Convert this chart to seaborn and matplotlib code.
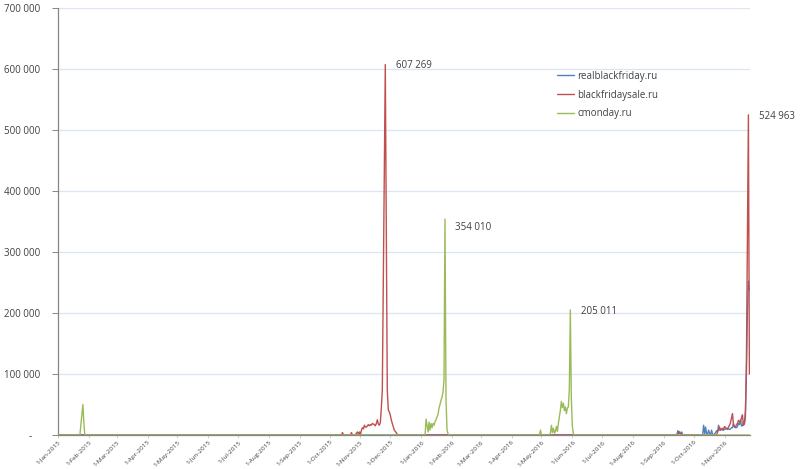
import numpy as np
import pandas as pd
import matplotlib
matplotlib.use("Agg")
import matplotlib.pyplot as plt
import matplotlib.dates as mdates
from matplotlib.ticker import FuncFormatter, MultipleLocator
import seaborn as sns

# ---------------- data ----------------
START = "2015-01-01"
END = "2016-11-26"
sites = ["realblackfriday.ru", "blackfridaysale.ru", "cmonday.ru"]
colors = ["#4F81BD", "#C0504D", "#9BBB59"]

# daily visits; days outside the listed segments are 0
real_sep16_start = "2016-09-14"
real_sep16 = [0, 7000, 2000, 5000, 1000, 5000, 0]
real_oct16_start = "2016-10-10"
real_oct16 = [0, 16000, 2000, 13000, 1000, 2000, 8000, 2000, 1000, 8000,
              1000, 0, 2000, 4000, 7000, 5000, 16000, 8000, 8000, 10000,
              8000, 8000, 9000, 10000, 10000, 9000, 10000, 9000, 10000, 12000,
              12000, 19000, 13000, 12000, 12000, 14000, 19000, 17000, 25000, 15000,
              15000, 22000, 20000, 40000, 100000, 200000, 252000, 238000]

sale_oct15_start = "2015-10-13"
sale_oct15 = [0, 4000, 0, 0, 0, 0, 0, 0, 0, 0,
              4000, 0, 0, 0, 0, 3000, 5000, 1000, 5000, 0,
              8000, 12000, 10000, 16000, 13000, 13000, 15000, 17000, 15000, 17000,
              16000, 19000, 18000, 17000, 15000, 19000, 25000, 18000, 16000, 20000,
              44000, 74000, 250000, 430000, 607269, 330000, 74000, 41000, 38000, 33000,
              25000, 19000, 14000, 8000, 6000, 4000, 1000, 0]
sale_sep16_start = "2016-09-15"
sale_sep16 = [0, 6000, 3000, 0]
sale_oct16_start = "2016-10-24"
sale_oct16 = [0, 5000, 9000, 13000, 8000, 10000, 11000, 9000, 14000, 12000,
              11000, 10000, 13000, 16000, 20000, 28000, 35000, 16000, 14000, 13000,
              17000, 19000, 24000, 22000, 21000, 28000, 33000, 16000, 18000, 30000,
              120000, 330000, 524963, 100000]

cmon_jan15_start = "2015-01-23"
cmon_jan15 = [0, 17000, 34000, 50000, 20000, 0]
cmon_jan16_start = "2016-01-05"
cmon_jan16 = [0, 26000, 15000, 5000, 21000, 8000, 19000, 12000, 19000, 16000,
              22000, 25000, 30000, 34000, 44000, 50000, 57000, 62000, 70000, 90000,
              354010, 60000, 9000, 2000, 0]
cmon_apr16_start = "2016-04-29"
cmon_apr16 = [0, 8000, 0]
cmon_may16_start = "2016-05-09"
cmon_may16 = [0, 3000, 16000, 4000, 11000, 3000, 6000, 14000, 6000, 19000,
              30000, 41000, 55000, 45000, 52000, 40000, 46000, 35000, 44000, 46000,
              75000, 205011, 60000, 15000, 2000, 0]

segments = {
    "realblackfriday.ru": [(real_sep16_start, real_sep16), (real_oct16_start, real_oct16)],
    "blackfridaysale.ru": [(sale_oct15_start, sale_oct15), (sale_sep16_start, sale_sep16),
                           (sale_oct16_start, sale_oct16)],
    "cmonday.ru": [(cmon_jan15_start, cmon_jan15), (cmon_jan16_start, cmon_jan16),
                   (cmon_apr16_start, cmon_apr16), (cmon_may16_start, cmon_may16)],
}

peak_labels = ["607 269", "354 010", "205 011", "524 963"]
peak_series = ["blackfridaysale.ru", "cmonday.ru", "cmonday.ru", "blackfridaysale.ru"]
peak_values = [607269, 354010, 205011, 524963]
peak_dy = [-1, -6, -1, -1]   # vertical text offsets in points

# ---------------- build frame ----------------
dates = pd.date_range(START, END, freq="D")
frames = []
for s in sites:
    ser = pd.Series(0.0, index=dates)
    for st, vals in segments[s]:
        idx = pd.date_range(st, periods=len(vals), freq="D")
        ser.loc[idx] = vals
    frames.append(pd.DataFrame({"date": dates, "visits": ser.values, "site": s}))
df = pd.concat(frames, ignore_index=True)

# ---------------- plot ----------------
sns.set_theme(style="white")
plt.rcParams["font.family"] = ["Open Sans", "DejaVu Sans"]
txt = "#404040"

fig = plt.figure(figsize=(8, 4.69), dpi=100)
ax = fig.add_axes([58 / 800, 34 / 469, 692 / 800, 427 / 469])

sns.lineplot(data=df, x="date", y="visits", hue="site", hue_order=sites,
             palette=colors, linewidth=1.0, ax=ax, legend=True, zorder=3)

ax.set_ylim(0, 700000)
ax.set_xlim(pd.Timestamp(START), pd.Timestamp(START) + pd.Timedelta(days=695.6))
ax.yaxis.set_major_locator(MultipleLocator(100000))
ax.yaxis.set_major_formatter(FuncFormatter(
    lambda v, p: "-   " if v == 0 else f"{int(v):,}".replace(",", " ")))
ax.grid(axis="y", color="#DCE6F2", linewidth=0.9, zorder=0)
ax.grid(axis="x", visible=False)

ax.xaxis.set_major_locator(mdates.MonthLocator(bymonthday=1))
ax.xaxis.set_major_formatter(FuncFormatter(
    lambda v, p: (lambda d: f"{d.day}-{d.strftime('%b')}-{d.year}")(mdates.num2date(v))))

for sp in ["top", "right"]:
    ax.spines[sp].set_visible(False)
ax.spines["left"].set_color("#868686")
ax.spines["left"].set_linewidth(0.9)
ax.spines["bottom"].set_color("#868686")
ax.spines["bottom"].set_linewidth(0.9)
ax.spines["bottom"].set_zorder(1)

ax.tick_params(axis="y", which="major", left=True, length=4, width=0.7,
               color="#868686", pad=9, labelsize=7, labelcolor=txt)
ax.tick_params(axis="x", which="major", bottom=True, length=2.5, width=0.5,
               color="#BFBFBF", pad=0.6, labelsize=4.6, labelcolor=txt)
for lab in ax.get_xticklabels():
    lab.set_rotation(45)
    lab.set_ha("right")
    lab.set_rotation_mode("anchor")

ax.set_xlabel("")
ax.set_ylabel("")

# peak annotations
for lbl, s, v, dy in zip(peak_labels, peak_series, peak_values, peak_dy):
    sub = df[(df["site"] == s) & (df["visits"] == v)]
    d = sub["date"].iloc[0]
    ax.annotate(lbl, xy=(d, v), xytext=(7.5, dy), textcoords="offset points",
                va="center", ha="left", fontsize=7, color=txt, annotation_clip=False)

leg = ax.legend(loc="upper left", bbox_to_anchor=(0.715, 0.862), frameon=False,
                fontsize=7, handlelength=1.8, handletextpad=0.3, labelspacing=0.8,
                borderaxespad=0)
for t in leg.get_texts():
    t.set_color(txt)
for h in leg.get_lines():
    h.set_linewidth(1.0)

fig.savefig("out.png", dpi=100)
